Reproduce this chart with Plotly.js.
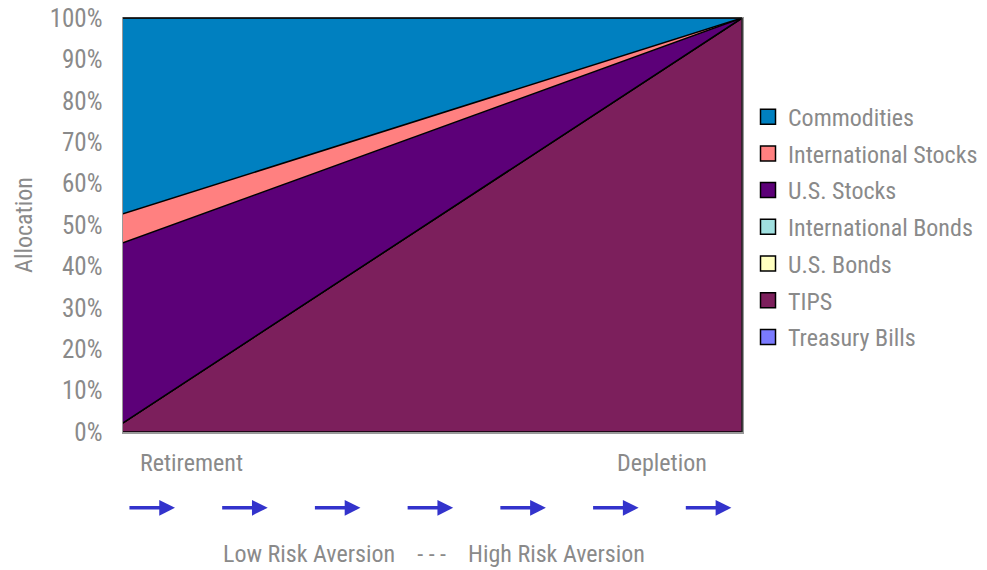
<!DOCTYPE html>
<html><head><meta charset="utf-8">
<script src="https://cdn.plot.ly/plotly-3.0.1.min.js"></script>
<style>html,body{margin:0;padding:0;background:#fff}#chart{width:987px;height:570px}</style>
</head><body><div id="chart"></div>
<script>
// Stage along the path from retirement (0) to depletion (1)
const stages = [0, 1];
// Allocation shares (%) at each stage
const treasuryBills = [0, 0];
const tips = [2.2, 100];
const usBonds = [0, 0];
const intlBonds = [0, 0];
const usStocks = [43.5, 0];
const intlStocks = [7.0, 0];
const commodities = [47.3, 0];
const yTicks = [0,10,20,30,40,50,60,70,80,90,100];
const yTickText = yTicks.map(v => v + '%');

const series = [
  {name:'Treasury Bills', y: treasuryBills, color:'#7b7bff'},
  {name:'TIPS', y: tips, color:'#7c1f5c'},
  {name:'U.S. Bonds', y: usBonds, color:'#ffffc0'},
  {name:'International Bonds', y: intlBonds, color:'#a0e0e0'},
  {name:'U.S. Stocks', y: usStocks, color:'#5c0078'},
  {name:'International Stocks', y: intlStocks, color:'#ff8080'},
  {name:'Commodities', y: commodities, color:'#0080c0'}
];

const FONT = '"Roboto Condensed", "Liberation Sans Narrow", "DejaVu Sans Condensed", Arial, sans-serif';
const GRAY = '#8a8a8a';
const FS = 24;

const areaTraces = series.map(s => ({
  type:'scatter', mode:'lines', x: stages, y: s.y, name: s.name,
  stackgroup:'one', fillcolor: s.color, showlegend:false,
  line:{color:'#000', width:1.5}
}));
// legend entries with square swatches, top of stack first
const legendTraces = series.slice().reverse().map(s => ({
  type:'scatter', mode:'markers', x:[null], y:[null], name: s.name,
  legendgroup: s.name, showlegend:true,
  marker:{symbol:'square', size:15, color:s.color, line:{color:'#000', width:1.5}}
}));

const arrows = [];
for (let i = 0; i < 7; i++) {
  const x0 = 0.008 + i * 0.1498;
  arrows.push({xref:'paper', yref:'paper', x: x0 + 0.076, y: -0.183, ax: x0, ay: -0.183,
    axref:'paper', ayref:'paper', showarrow:true, arrowhead:2, arrowsize:0.9, arrowwidth:3.5,
    arrowcolor:'#3333cc', text:''});
}

const layout = {
  width:987, height:570,
  margin:{l:123, r:245, t:18, b:138, autoexpand:false},
  paper_bgcolor:'#fff', plot_bgcolor:'#fff',
  font:{family:FONT, color:GRAY, size:FS},
  showlegend:true,
  legend:{x:1.0097, y:0.815, xanchor:'left', yanchor:'top', traceorder:'grouped',
    font:{family:FONT, size:FS, color:GRAY}, tracegroupgap:2.5, itemwidth:30},
  xaxis:{range:[0,1], showticklabels:false, showgrid:false, zeroline:false,
    showline:true, linecolor:'#999', linewidth:1.5, mirror:true, ticks:''},
  yaxis:{range:[0,100], tickvals:yTicks, ticktext:yTickText, showgrid:false, zeroline:false,
    showline:true, linecolor:'#999', linewidth:1.5, mirror:true, ticks:'', ticklabelstandoff:14,
    tickfont:{family:FONT, size:25, color:GRAY},
    title:{text:'Allocation', font:{family:FONT, size:FS, color:GRAY}, standoff:10}},
  shapes:[
    {type:'line', xref:'paper', yref:'paper', x0:0, x1:1, y0:1, y1:1, line:{color:'#111', width:1.5}},
    {type:'line', xref:'paper', yref:'paper', x0:1, x1:1, y0:0, y1:1, line:{color:'#222', width:1.5}}
  ],
  annotations: [
    {xref:'paper', yref:'paper', x:0.024, y:-0.075, xanchor:'left', yanchor:'middle', showarrow:false,
      text:'Retirement', font:{family:FONT, size:FS, color:GRAY}},
    {xref:'paper', yref:'paper', x:0.947, y:-0.075, xanchor:'right', yanchor:'middle', showarrow:false,
      text:'Depletion', font:{family:FONT, size:FS, color:GRAY}},
    {xref:'paper', yref:'paper', x:0.502, y:-0.295, xanchor:'center', yanchor:'middle', showarrow:false,
      text:'Low Risk Aversion&nbsp;&nbsp;&nbsp;&nbsp;- - -&nbsp;&nbsp;&nbsp;&nbsp;High Risk Aversion', font:{family:FONT, size:FS, color:GRAY}}
  ].concat(arrows)
};

Plotly.newPlot('chart', areaTraces.concat(legendTraces), layout, {displayModeBar:false, staticPlot:true});
</script>
</body></html>
